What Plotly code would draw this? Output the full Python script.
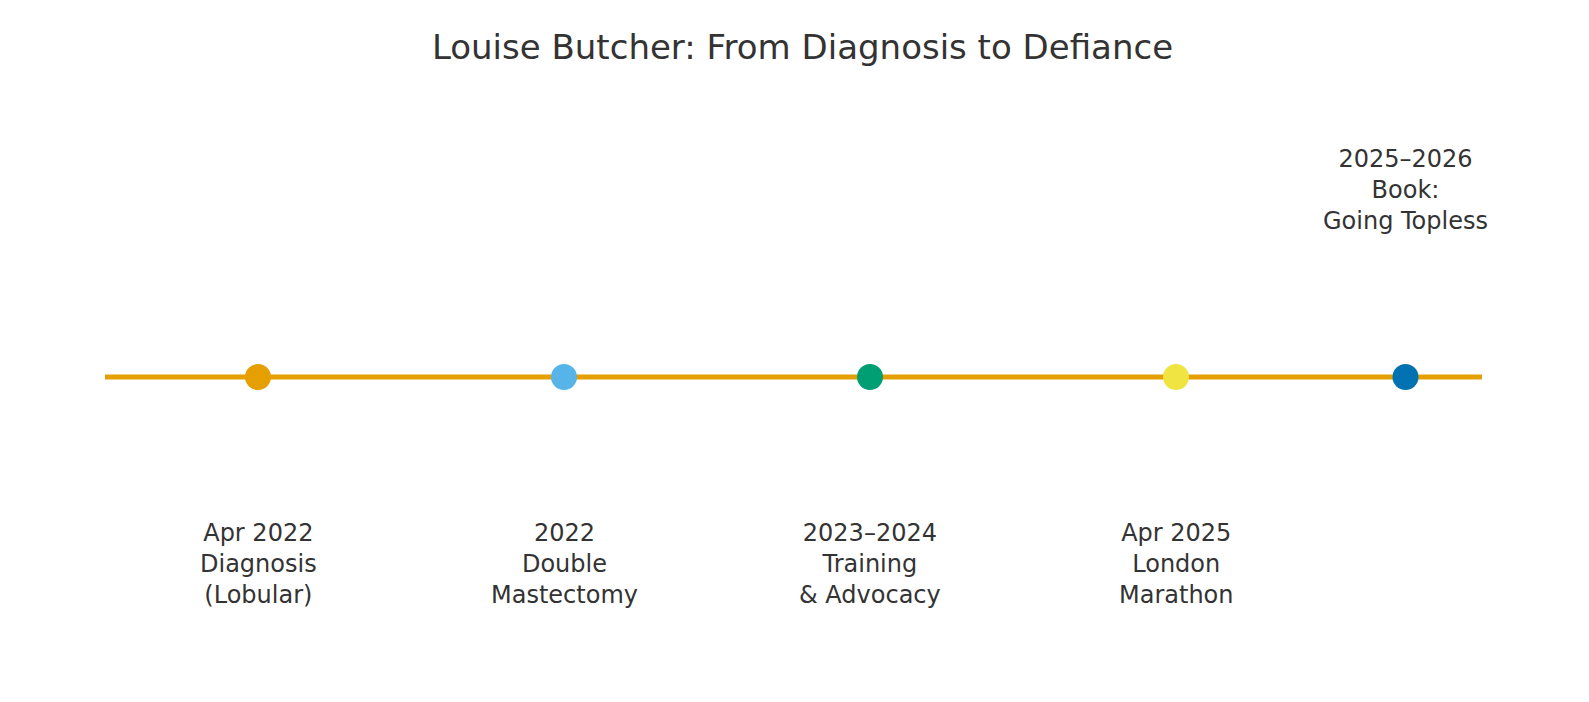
import plotly.graph_objects as go

pos = [0, 1, 2, 3, 3.75]
labels = ["Apr 2022<br>Diagnosis<br>(Lobular)", "2022<br>Double<br>Mastectomy",
          "2023–2024<br>Training<br>& Advocacy", "Apr 2025<br>London<br>Marathon",
          "2025–2026<br>Book:<br>Going Topless"]
label_side = [-1, -1, -1, -1, 1]
colors = ["#E69F00", "#56B4E9", "#009E73", "#F0E442", "#0072B2"]
line_x = [-0.5, 4.0]

fig = go.Figure()
fig.add_trace(go.Scatter(x=line_x, y=[0, 0], mode="lines",
                         line=dict(color="#E69F00", width=5), hoverinfo="skip"))
fig.add_trace(go.Scatter(x=pos, y=[0]*len(pos), mode="markers",
                         marker=dict(color=colors, size=26), hoverinfo="skip"))
for p, l, s in zip(pos, labels, label_side):
    fig.add_annotation(x=p, y=1.87*s, text=l, showarrow=False,
                       font=dict(size=24, color="#333333", family="DejaVu Sans"))
fig.update_layout(
    width=1589, height=702, showlegend=False,
    paper_bgcolor="white", plot_bgcolor="white",
    margin=dict(l=0, r=0, t=0, b=0),
    title=dict(text="Louise Butcher: From Diagnosis to Defiance", x=0.5, y=0.945,
               xanchor="center", yanchor="middle",
               font=dict(size=34, color="#333333", family="DejaVu Sans")),
    xaxis=dict(range=[-250/306, 1339/306], visible=False),
    yaxis=dict(range=[-3.33, 3.69], visible=False),
)
fig.write_html("out.html")
